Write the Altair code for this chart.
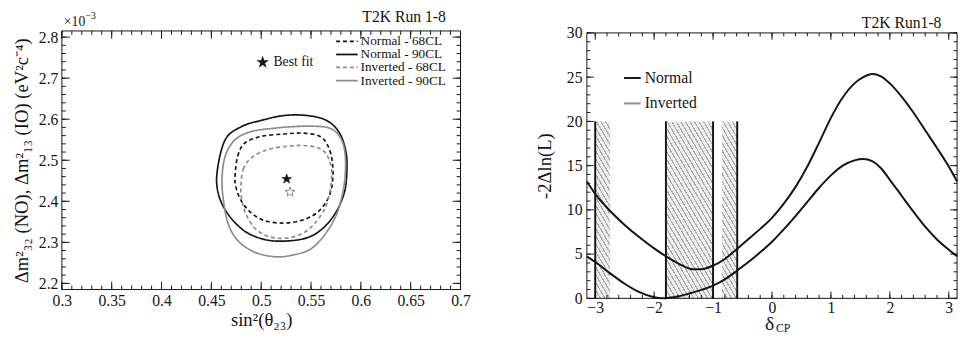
import math
import pandas as pd
import altair as alt

FONT = "Liberation Serif"
BLACK = "#141414"
GRAY = "#8c8c8c"

# ---------------- left panel data (sin^2 theta23 vs dm^2 [1e-3 eV^2]) ----------------
contour_names = ["Normal - 68CL", "Normal - 90CL", "Inverted - 68CL", "Inverted - 90CL"]
contour_colors = [BLACK, BLACK, GRAY, GRAY]

no68_x = [0.4738, 0.4764, 0.4836, 0.5000, 0.5230, 0.5426, 0.5590, 0.5672, 0.5715, 0.5715,
          0.5672, 0.5574, 0.5426, 0.5230, 0.5033, 0.4885, 0.4787, 0.4744]
no68_y = [2.462, 2.510, 2.542, 2.558, 2.564, 2.566, 2.558, 2.534, 2.494, 2.446,
          2.407, 2.375, 2.355, 2.347, 2.353, 2.375, 2.407, 2.438]

no90_x = [0.4557, 0.4639, 0.4803, 0.5000, 0.5230, 0.5459, 0.5656, 0.5787, 0.5852, 0.5859,
          0.5836, 0.5754, 0.5623, 0.5459, 0.5230, 0.5033, 0.4836, 0.4672, 0.4574]
no90_y = [2.470, 2.550, 2.582, 2.597, 2.609, 2.609, 2.597, 2.566, 2.518, 2.470,
          2.423, 2.375, 2.335, 2.311, 2.303, 2.307, 2.327, 2.367, 2.415]

io68_x = [0.4797, 0.4820, 0.4902, 0.5066, 0.5262, 0.5426, 0.5574, 0.5656, 0.5705, 0.5695,
          0.5639, 0.5525, 0.5393, 0.5230, 0.5066, 0.4934, 0.4843, 0.4803]
io68_y = [2.438, 2.478, 2.506, 2.526, 2.534, 2.536, 2.530, 2.514, 2.478, 2.431,
          2.383, 2.343, 2.319, 2.310, 2.315, 2.335, 2.371, 2.407]

io90_x = [0.4607, 0.4639, 0.4738, 0.4902, 0.5131, 0.5328, 0.5525, 0.5689, 0.5787, 0.5836,
          0.5846, 0.5820, 0.5754, 0.5639, 0.5492, 0.5295, 0.5131, 0.4934, 0.4770, 0.4672, 0.4623]
io90_y = [2.454, 2.510, 2.550, 2.570, 2.578, 2.582, 2.583, 2.578, 2.558, 2.526,
          2.478, 2.423, 2.367, 2.319, 2.283, 2.268, 2.265, 2.276, 2.303, 2.343, 2.399]

best_fit_names = ["Normal", "Inverted"]
best_fit_x = [0.5256, 0.5289]
best_fit_y = [2.4543, 2.4225]

lx_major = [0.3, 0.35, 0.4, 0.45, 0.5, 0.55, 0.6, 0.65, 0.7]
lx_minor = [round(0.3 + 0.01 * i, 2) for i in range(41)]
ly_major = [2.2, 2.3, 2.4, 2.5, 2.6, 2.7, 2.8]
ly_minor = [round(2.2 + 0.02 * i, 2) for i in range(31)]

# ---------------- right panel data (delta_CP vs -2 dlnL) ----------------
curve_names = ["Normal", "Inverted"]
delta_no = [-3.1416, -3.0, -2.75, -2.5, -2.25, -2.0, -1.85, -1.6, -1.4, -1.2, -1.0, -0.8, -0.6,
            -0.4, -0.2, 0.0, 0.2, 0.4, 0.6, 0.8, 1.0, 1.2, 1.4, 1.55, 1.7, 1.85, 2.0, 2.2, 2.4,
            2.6, 2.8, 3.0, 3.1416]
chi_no = [4.75, 4.1, 2.85, 1.65, 0.7, 0.12, 0.0, 0.2, 0.55, 0.95, 1.45, 2.15, 3.1,
          4.1, 5.2, 6.4, 7.8, 9.3, 10.9, 12.5, 13.9, 15.0, 15.6, 15.75, 15.5, 14.7, 13.4, 11.6, 9.8,
          8.1, 6.65, 5.5, 4.75]
delta_io = [-3.1416, -3.0, -2.75, -2.5, -2.25, -2.0, -1.75, -1.5, -1.35, -1.2, -1.0, -0.8, -0.6,
            -0.4, -0.2, 0.0, 0.2, 0.4, 0.6, 0.8, 1.0, 1.2, 1.4, 1.55, 1.7, 1.85, 2.0, 2.2, 2.4,
            2.6, 2.8, 3.0, 3.1416]
chi_io = [13.2, 11.8, 9.9, 8.3, 6.9, 5.65, 4.55, 3.65, 3.3, 3.3, 3.7, 4.45, 5.55,
          6.7, 7.85, 9.1, 10.7, 12.6, 14.9, 17.6, 20.4, 22.7, 24.3, 25.0, 25.35, 25.1, 24.3, 22.8, 21.0,
          19.0, 17.0, 14.9, 13.2]

interval_x = [-3.0, -0.59, -1.80, -1.0]
interval_kind = ["Normal", "Normal", "Inverted", "Inverted"]
interval_top = 20.0
hatch_lo = [-3.0, -1.80, -0.85]
hatch_hi = [-2.75, -1.0, -0.59]

rx_major = [-3, -2, -1, 0, 1, 2, 3]
rx_minor = [round(-3.0 + 0.2 * i, 1) for i in range(31)]
ry_major = [0, 5, 10, 15, 20, 25, 30]
ry_minor = list(range(0, 31))

# ---------------- geometry ----------------
LW, LH = 407, 264          # left plot frame
RW, RH = 378, 271          # right plot frame
R_OFF = 2                  # right frame sits 2 px below the shared view origin
LX = alt.Scale(domain=[0.3, 0.7], zero=False, nice=False)
LY = alt.Scale(domain=[2.185, 2.815], zero=False, nice=False)
RX = alt.Scale(domain=[-math.pi, math.pi], zero=False, nice=False)
RY = alt.Scale(domain=[0, 30], zero=False, nice=False, range=[RH + R_OFF, R_OFF])

pts = []
for k in range(10):
    a = math.radians(-90 + 36 * k)
    r = 1.0 if k % 2 == 0 else 0.4
    pts.append((r * math.cos(a), r * math.sin(a)))
STAR = "M" + "L".join(f"{px:.3f},{py:.3f}" for px, py in pts) + "Z"


def frame(W, top, bottom):
    return alt.Chart(pd.DataFrame({"a": [0]})).mark_rect(
        filled=False, stroke=BLACK, strokeWidth=1
    ).encode(x=alt.value(0), x2=alt.value(W), y=alt.value(top), y2=alt.value(bottom))


def frame_ticks(xs, ys, W, top, bottom, xmaj, xmin, ymaj, ymin, tmaj, tmin):
    """Inward ROOT-style ticks on all four sides, drawn as rules through the scales."""
    out = []
    for vals, size in ((xmaj, tmaj), (xmin, tmin)):
        df = pd.DataFrame({"v": vals})
        for y0, y1 in ((bottom, bottom - size), (top, top + size)):
            out.append(alt.Chart(df).mark_rule(color=BLACK, strokeWidth=1).encode(
                x=alt.X("v:Q", scale=xs, axis=None), y=alt.value(y0), y2=alt.value(y1)))
    for vals, size in ((ymaj, tmaj), (ymin, tmin)):
        df = pd.DataFrame({"v": vals})
        for x0, x1 in ((0, size), (W, W - size)):
            out.append(alt.Chart(df).mark_rule(color=BLACK, strokeWidth=1).encode(
                y=alt.Y("v:Q", scale=ys, axis=None), x=alt.value(x0), x2=alt.value(x1)))
    return out


def txt(s, x, y, size, align="left", baseline="alphabetic", color=BLACK):
    return alt.Chart(pd.DataFrame({"t": [s]})).mark_text(
        font=FONT, fontSize=size, align=align, baseline=baseline, color=color
    ).encode(x=alt.value(x), y=alt.value(y), text="t:N")


def seg(x1, x2, y, color, dash=None, width=1.8):
    kw = dict(color=color, strokeWidth=width)
    if dash:
        kw["strokeDash"] = dash
    return alt.Chart(pd.DataFrame({"a": [0]})).mark_rule(**kw).encode(
        x=alt.value(x1), x2=alt.value(x2), y=alt.value(y))


# ---------------- left chart ----------------
rows = []
for name, xs_, ys_ in zip(contour_names, [no68_x, no90_x, io68_x, io90_x], [no68_y, no90_y, io68_y, io90_y]):
    for i, (a, b) in enumerate(zip(xs_, ys_)):
        rows.append({"series": name, "i": i, "x": a, "y": b})
cdf = pd.DataFrame(rows)
bdf = pd.DataFrame({"kind": best_fit_names, "x": best_fit_x, "y": best_fit_y})

dash_range = [[4, 3], [1, 0], [4, 3], [1, 0]]
contours = alt.Chart(cdf).mark_line(interpolate="cardinal-closed", strokeWidth=1.7).encode(
    x=alt.X("x:Q", scale=LX, axis=alt.Axis(
        orient="bottom", values=lx_major, format=".2~f", ticks=False, domain=False, grid=False,
        labelFlush=False, title="sin²(θ₂₃)", labelPadding=3, titlePadding=3)),
    y=alt.Y("y:Q", scale=LY, axis=alt.Axis(
        orient="left", values=ly_major, format=".1f", ticks=False, domain=False, grid=False,
        title="Δm²₃₂ (NO), Δm²₁₃ (IO) (eV²c⁻⁴)", labelPadding=4, titlePadding=7)),
    color=alt.Color("series:N", scale=alt.Scale(domain=contour_names, range=contour_colors), legend=None),
    strokeDash=alt.StrokeDash("series:N", scale=alt.Scale(domain=contour_names, range=dash_range), legend=None),
    order=alt.Order("i:Q"),
)
star_no = alt.Chart(bdf[bdf.kind == "Normal"]).mark_point(
    shape=STAR, filled=True, fill=BLACK, stroke=BLACK, strokeWidth=0.5, size=110, opacity=1
).encode(x=alt.X("x:Q", scale=LX, axis=None), y=alt.Y("y:Q", scale=LY, axis=None))
star_io = alt.Chart(bdf[bdf.kind == "Inverted"]).mark_point(
    shape=STAR, filled=False, stroke=GRAY, strokeWidth=1, size=110, opacity=1
).encode(x=alt.X("x:Q", scale=LX, axis=None), y=alt.Y("y:Q", scale=LY, axis=None))

left_layers = [contours, star_no, star_io]
left_layers += frame_ticks(LX, LY, LW, 0, LH, lx_major, lx_minor, ly_major, ly_minor, 8, 4)
left_layers.append(frame(LW, 0, LH))
leg_y = [10.7, 24, 37.3, 50.7]
for name, col, dsh, yy in zip(contour_names, contour_colors, dash_range, leg_y):
    left_layers.append(seg(280, 302, yy, col, dash=dsh if dsh != [1, 0] else None))
    left_layers.append(txt(name, 305, yy, 13.5, baseline="middle"))
left_layers.append(alt.Chart(pd.DataFrame({"a": [0]})).mark_point(
    shape=STAR, filled=True, fill=BLACK, stroke=BLACK, size=55, opacity=1
).encode(x=alt.value(205), y=alt.value(32)))
left_layers.append(txt("Best fit", 216, 32, 14, baseline="middle"))
left_layers.append(txt("T2K Run 1-8", 392, -9, 16, align="right"))
left_layers.append(txt("×10", 2, -5, 14))
left_layers.append(txt("−3", 24, -12, 10))

left = alt.layer(*left_layers).resolve_axis(x="independent", y="independent").properties(width=LW, height=LH)

# ---------------- right chart ----------------
crows = []
for name, dx, cy in zip(curve_names, [delta_no, delta_io], [chi_no, chi_io]):
    for a, b in zip(dx, cy):
        crows.append({"curve": name, "d": a, "c": b})
curdf = pd.DataFrame(crows)
idf = pd.DataFrame({"d": interval_x, "kind": interval_kind, "top": [interval_top] * 4, "bot": [0.0] * 4})


def hatch_fill(wpx, hpx, s=1.7, period=4.0, frac=0.3, bg="#eeeeee", fg="#ababab"):
    L = s * wpx + hpx
    lam = L / (s * s * wpx * wpx + hpx * hpx)
    x2 = lam * s * wpx
    y2 = 1 - lam * hpx
    step = period * math.sqrt(s * s + 1)
    n = L / step
    stops = []
    k = 0
    while k / n < 1:
        a = k / n
        b = min((k + frac) / n, 1)
        c = min((k + 1) / n, 1)
        stops += [{"offset": a, "color": fg}, {"offset": b, "color": fg},
                  {"offset": b, "color": bg}, {"offset": c, "color": bg}]
        k += 1
    return {"gradient": "linear", "x1": 0, "y1": 1, "x2": x2, "y2": y2, "stops": stops}


right_layers = []
for lo, hi in zip(hatch_lo, hatch_hi):
    wpx = (hi - lo) * RW / (2 * math.pi)
    hpx = interval_top * RH / 30
    hdf = pd.DataFrame({"lo": [lo], "hi": [hi], "b": [0.0], "t": [interval_top]})
    right_layers.append(alt.Chart(hdf).mark_rect(fill=hatch_fill(wpx, hpx), strokeWidth=0).encode(
        x=alt.X("lo:Q", scale=RX, axis=None), x2="hi:Q",
        y=alt.Y("b:Q", scale=RY, axis=None), y2="t:Q"))

rules = alt.Chart(idf).mark_rule(strokeWidth=2).encode(
    x=alt.X("d:Q", scale=RX, axis=None), y=alt.Y("bot:Q", scale=RY, axis=None), y2="top:Q",
    color=alt.Color("kind:N", scale=alt.Scale(domain=curve_names, range=[BLACK, GRAY]), legend=None))
right_layers.append(rules)

curves = alt.Chart(curdf).mark_line(interpolate="monotone", strokeWidth=2).encode(
    x=alt.X("d:Q", scale=RX, axis=alt.Axis(
        orient="bottom", values=rx_major, format="d", ticks=False, domain=False, grid=False,
        labelFlush=False, title=None, labelPadding=1)),
    y=alt.Y("c:Q", scale=RY, axis=alt.Axis(
        orient="left", values=ry_major, format="d", ticks=False, domain=False, grid=False,
        title="-2Δln(L)", labelPadding=5, titlePadding=12)),
    color=alt.Color("curve:N", scale=alt.Scale(domain=curve_names, range=[BLACK, GRAY]), legend=None),
)
right_layers.append(curves)
right_layers += frame_ticks(RX, RY, RW, R_OFF, RH + R_OFF, rx_major, rx_minor, ry_major, ry_minor, 7, 3.5)
right_layers.append(frame(RW, R_OFF, RH + R_OFF))
right_layers.append(seg(38, 55, 48, BLACK, width=2))
right_layers.append(txt("Normal", 59, 48, 16, baseline="middle"))
right_layers.append(seg(38, 55, 74, GRAY, width=2))
right_layers.append(txt("Inverted", 59, 74, 16, baseline="middle"))
right_layers.append(txt("T2K Run1-8", 362, -3, 16, align="right"))
right_layers.append(txt("δ", 186.5, 305, 20, align="center"))
right_layers.append(txt("CP", 193, 307.5, 12))

right = alt.layer(*right_layers).resolve_axis(x="independent", y="independent").properties(
    width=RW, height=RH + R_OFF)

chart = alt.hconcat(left, right, spacing=67,
                    padding={"left": 4, "top": -2, "right": 0, "bottom": -2}).configure_view(
    strokeWidth=0
).configure_axis(
    labelFont=FONT, titleFont=FONT, labelFontSize=16, titleFontSize=19, labelColor=BLACK,
    titleColor=BLACK, titleFontWeight="normal", labelFontWeight="normal"
)

chart.save("out.html", embed_options={"renderer": "svg", "actions": False})
